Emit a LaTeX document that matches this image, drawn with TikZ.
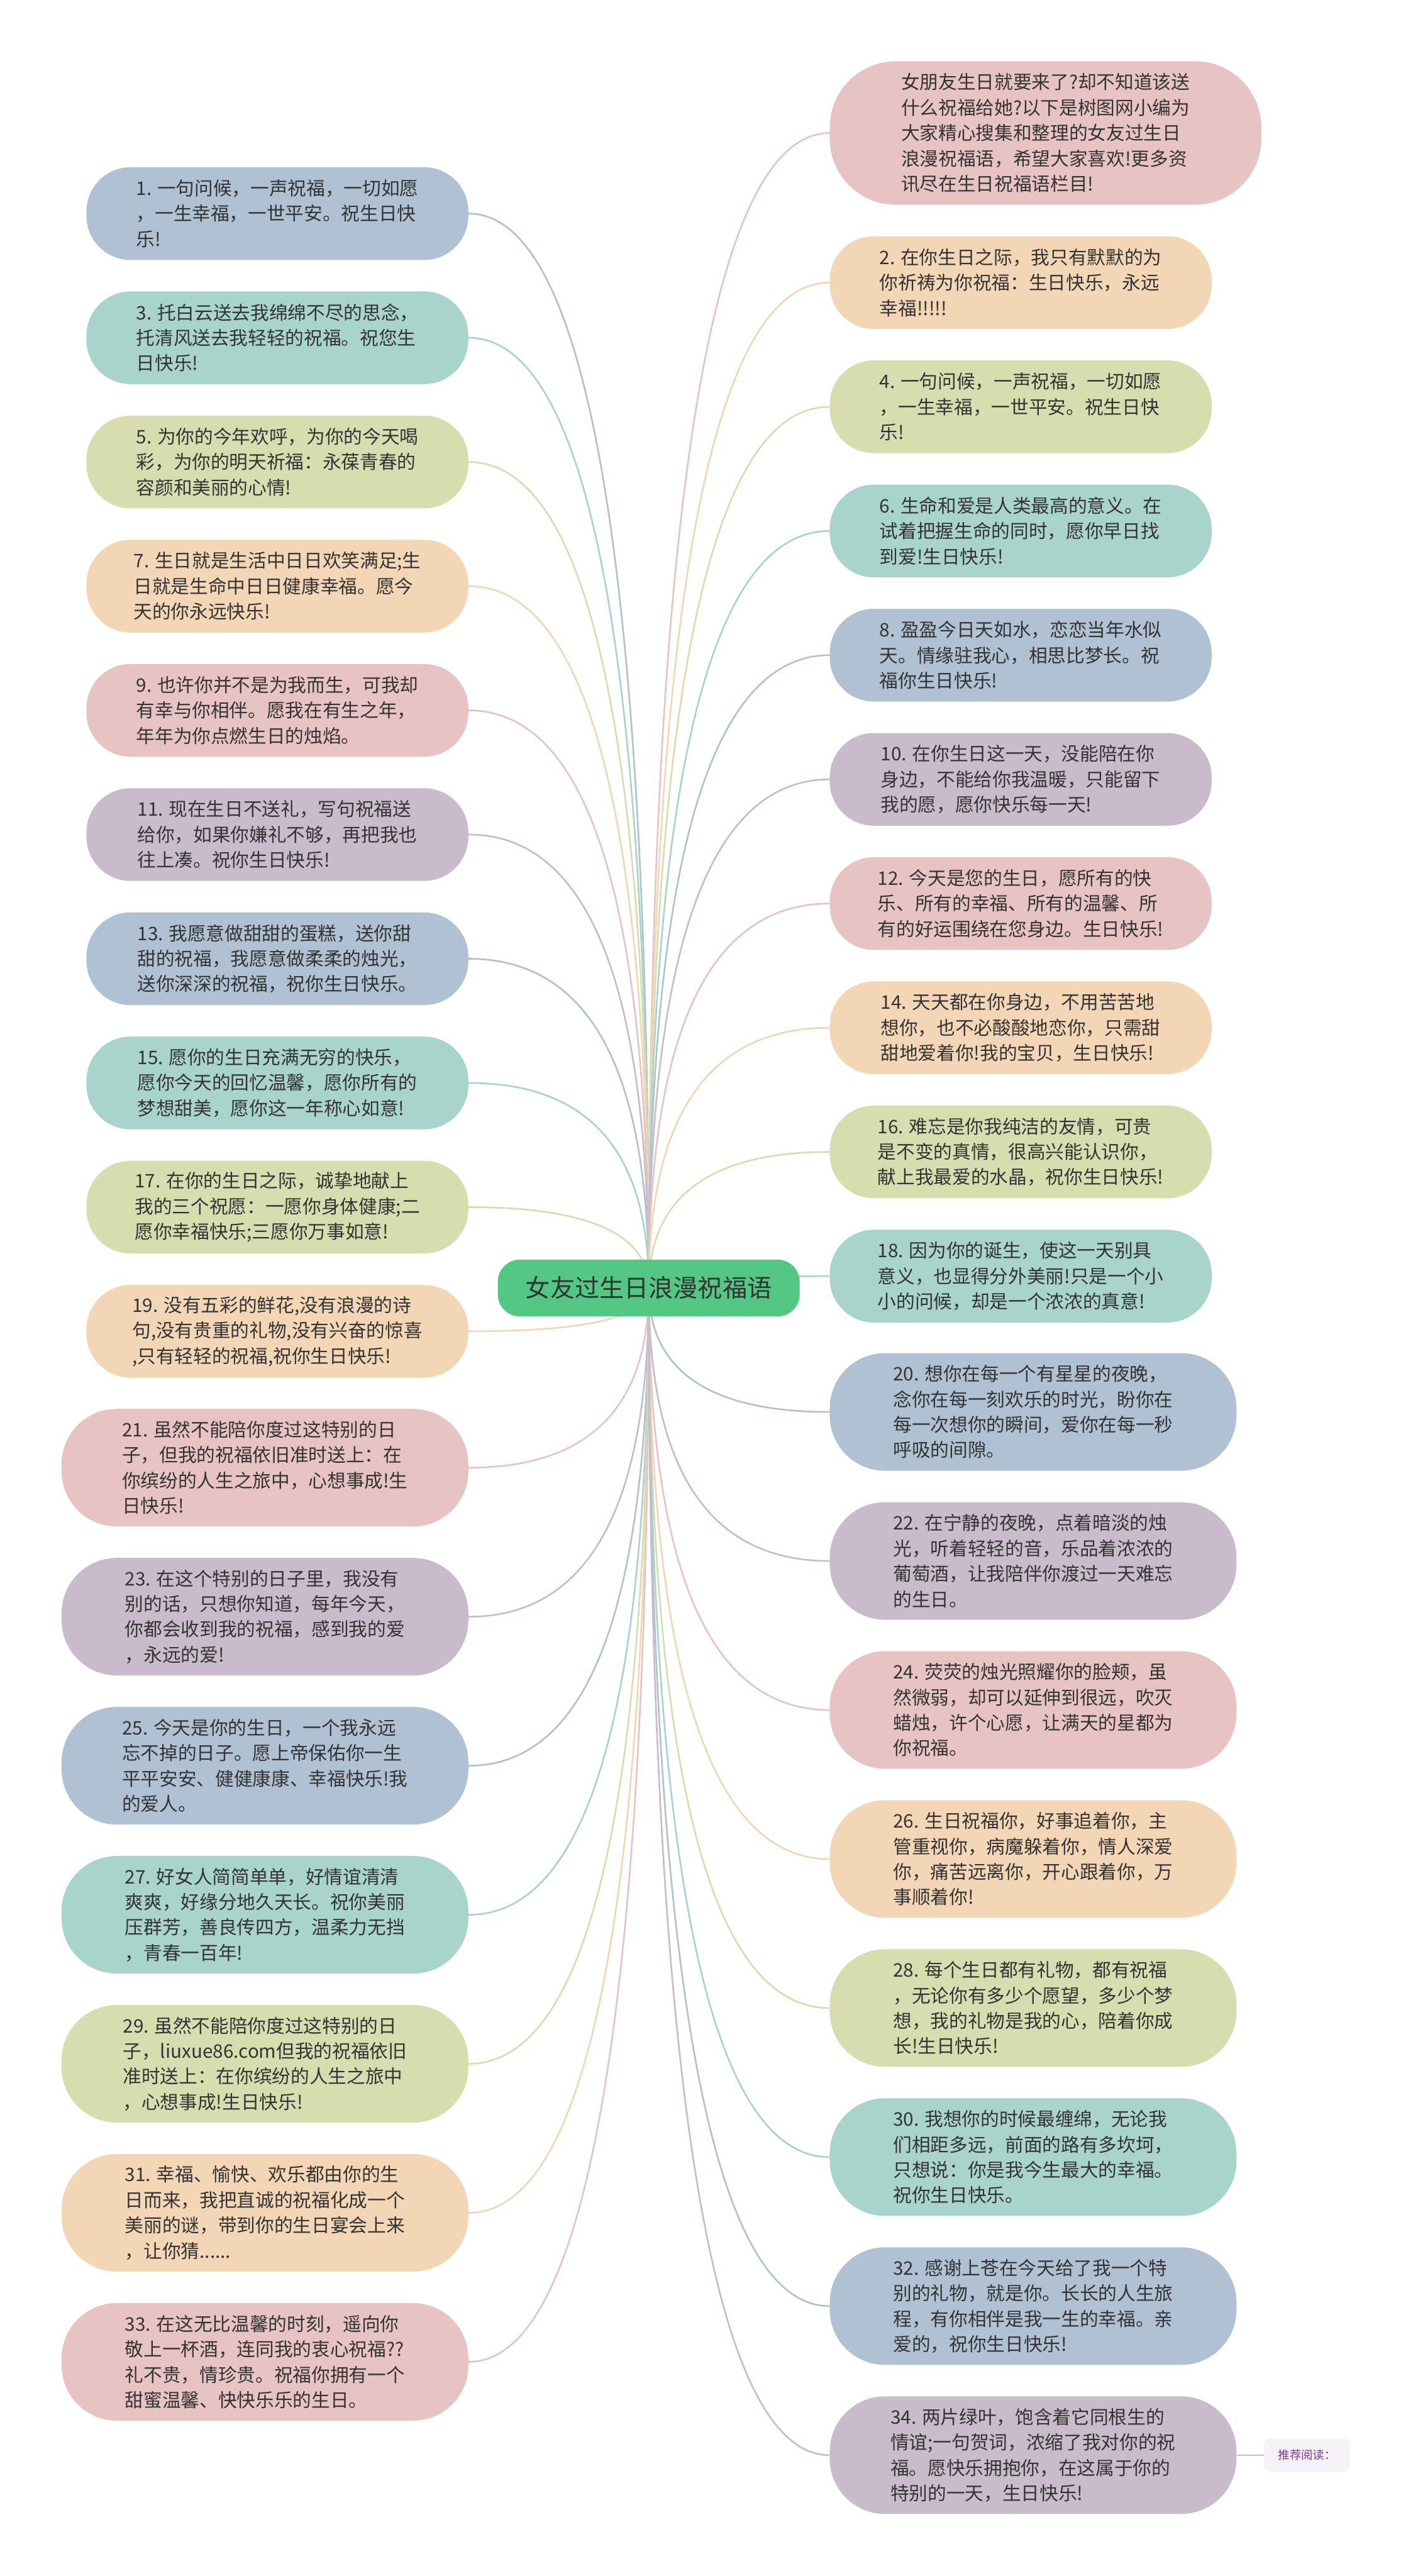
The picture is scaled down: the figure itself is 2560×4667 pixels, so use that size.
\documentclass[tikz,border=0pt]{standalone}
\usepackage{fontspec}
\setmainfont{Noto Sans CJK SC}
\usetikzlibrary{calc,backgrounds}
\definecolor{cblue}{HTML}{B0C1D3}
\definecolor{cteal}{HTML}{A8D4CB}
\definecolor{colive}{HTML}{D8DDB0}
\definecolor{cpeach}{HTML}{F3D6B5}
\definecolor{cpink}{HTML}{E8C3C4}
\definecolor{cpurple}{HTML}{C9BBCB}
\definecolor{croot}{HTML}{55C785}
\definecolor{ctxt}{HTML}{333333}
\definecolor{ctagbg}{HTML}{F4F2F6}
\definecolor{ctagtx}{HTML}{7A3D8E}
\tikzset{
  bub/.style={rounded corners=40pt, minimum width=346pt, minimum height=84pt,
    align=left, inner sep=0pt, text=ctxt,
    font=\fontsize{16.9pt}{23pt}\selectfont},
  bubfour/.style={bub, rounded corners=50pt, minimum width=368.5pt, minimum height=106.5pt},
  bubintro/.style={bub, rounded corners=60pt, minimum width=391pt, minimum height=130pt},
  lft/.style={anchor=east},
  rgt/.style={anchor=west},
  link/.style={line width=1.5pt},
}
\newcommand\lk[2]{\draw[link,draw=#2] (R.center) .. controls ($(R.center)!0.6667!(R.center|-#1)$) and ($(#1)!0.6667!(R.center|-#1)$) .. (#1);}
\begin{document}
\begin{tikzpicture}[x=0.5pt,y=-0.5pt]
\useasboundingbox (0,0) rectangle (2560,4667);

% root
\node[rounded corners=20pt, minimum width=273.5pt, minimum height=51.5pt, fill=croot, text=ctxt,
  font=\fontsize{22.3pt}{26pt}\selectfont, inner sep=0pt] (R) at (1175.5,2333.5) {女友过生日浪漫祝福语};

% left column
\node[bub,lft,fill=cblue] (n1) at (849,387) {1. 一句问候，一声祝福，一切如愿\\，一生幸福，一世平安。祝生日快\\乐!};
\node[bub,lft,fill=cteal] (n3) at (849,612) {3. 托白云送去我绵绵不尽的思念，\\托清风送去我轻轻的祝福。祝您生\\日快乐!};
\node[bub,lft,fill=colive] (n5) at (849,837) {5. 为你的今年欢呼，为你的今天喝\\彩，为你的明天祈福：永葆青春的\\容颜和美丽的心情!};
\node[bub,lft,fill=cpeach] (n7) at (849,1062) {7. 生日就是生活中日日欢笑满足;生\\日就是生命中日日健康幸福。愿今\\天的你永远快乐!};
\node[bub,lft,fill=cpink] (n9) at (849,1287) {9. 也许你并不是为我而生，可我却\\有幸与你相伴。愿我在有生之年，\\年年为你点燃生日的烛焰。};
\node[bub,lft,fill=cpurple] (n11) at (849,1512) {11. 现在生日不送礼，写句祝福送\\给你，如果你嫌礼不够，再把我也\\往上凑。祝你生日快乐!};
\node[bub,lft,fill=cblue] (n13) at (849,1737) {13. 我愿意做甜甜的蛋糕，送你甜\\甜的祝福，我愿意做柔柔的烛光，\\送你深深的祝福，祝你生日快乐。};
\node[bub,lft,fill=cteal] (n15) at (849,1962) {15. 愿你的生日充满无穷的快乐，\\愿你今天的回忆温馨，愿你所有的\\梦想甜美，愿你这一年称心如意!};
\node[bub,lft,fill=colive] (n17) at (849,2187) {17. 在你的生日之际，诚挚地献上\\我的三个祝愿：一愿你身体健康;二\\愿你幸福快乐;三愿你万事如意!};
\node[bub,lft,fill=cpeach] (n19) at (849,2412) {19. 没有五彩的鲜花,没有浪漫的诗\\句,没有贵重的礼物,没有兴奋的惊喜\\,只有轻轻的祝福,祝你生日快乐!};
\node[bubfour,lft,fill=cpink] (n21) at (849,2659) {21. 虽然不能陪你度过这特别的日\\子，但我的祝福依旧准时送上：在\\你缤纷的人生之旅中，心想事成!生\\日快乐!};
\node[bubfour,lft,fill=cpurple] (n23) at (849,2929) {23. 在这个特别的日子里，我没有\\别的话，只想你知道，每年今天，\\你都会收到我的祝福，感到我的爱\\，永远的爱!};
\node[bubfour,lft,fill=cblue] (n25) at (849,3199) {25. 今天是你的生日，一个我永远\\忘不掉的日子。愿上帝保佑你一生\\平平安安、健健康康、幸福快乐!我\\的爱人。};
\node[bubfour,lft,fill=cteal] (n27) at (849,3469) {27. 好女人简简单单，好情谊清清\\爽爽，好缘分地久天长。祝你美丽\\压群芳，善良传四方，温柔力无挡\\，青春一百年!};
\node[bubfour,lft,fill=colive] (n29) at (849,3739) {29. 虽然不能陪你度过这特别的日\\子，liuxue86.com但我的祝福依旧\\准时送上：在你缤纷的人生之旅中\\，心想事成!生日快乐!};
\node[bubfour,lft,fill=cpeach] (n31) at (849,4009) {31. 幸福、愉快、欢乐都由你的生\\日而来，我把直诚的祝福化成一个\\美丽的谜，带到你的生日宴会上来\\，让你猜......};
\node[bubfour,lft,fill=cpink] (n33) at (849,4279) {33. 在这无比温馨的时刻，遥向你\\敬上一杯酒，连同我的衷心祝福??\\礼不贵，情珍贵。祝福你拥有一个\\甜蜜温馨、快快乐乐的生日。};

% right column
\node[bubintro,rgt,fill=cpink] (n0) at (1503,241) {女朋友生日就要来了?却不知道该送\\什么祝福给她?以下是树图网小编为\\大家精心搜集和整理的女友过生日\\浪漫祝福语，希望大家喜欢!更多资\\讯尽在生日祝福语栏目!};
\node[bub,rgt,fill=cpeach] (n2) at (1503,512) {2. 在你生日之际，我只有默默的为\\你祈祷为你祝福：生日快乐，永远\\幸福!!!!!};
\node[bub,rgt,fill=colive] (n4) at (1503,737) {4. 一句问候，一声祝福，一切如愿\\，一生幸福，一世平安。祝生日快\\乐!};
\node[bub,rgt,fill=cteal] (n6) at (1503,962) {6. 生命和爱是人类最高的意义。在\\试着把握生命的同时，愿你早日找\\到爱!生日快乐!};
\node[bub,rgt,fill=cblue] (n8) at (1503,1187) {8. 盈盈今日天如水，恋恋当年水似\\天。情缘驻我心，相思比梦长。祝\\福你生日快乐!};
\node[bub,rgt,fill=cpurple] (n10) at (1503,1412) {10. 在你生日这一天，没能陪在你\\身边，不能给你我温暖，只能留下\\我的愿，愿你快乐每一天!};
\node[bub,rgt,fill=cpink] (n12) at (1503,1637) {12. 今天是您的生日，愿所有的快\\乐、所有的幸福、所有的温馨、所\\有的好运围绕在您身边。生日快乐!};
\node[bub,rgt,fill=cpeach] (n14) at (1503,1862) {14. 天天都在你身边，不用苦苦地\\想你，也不必酸酸地恋你，只需甜\\甜地爱着你!我的宝贝，生日快乐!};
\node[bub,rgt,fill=colive] (n16) at (1503,2087) {16. 难忘是你我纯洁的友情，可贵\\是不变的真情，很高兴能认识你，\\献上我最爱的水晶，祝你生日快乐!};
\node[bub,rgt,fill=cteal] (n18) at (1503,2312) {18. 因为你的诞生，使这一天别具\\意义，也显得分外美丽!只是一个小\\小的问候，却是一个浓浓的真意!};
\node[bubfour,rgt,fill=cblue] (n20) at (1503,2558) {20. 想你在每一个有星星的夜晚，\\念你在每一刻欢乐的时光，盼你在\\每一次想你的瞬间，爱你在每一秒\\呼吸的间隙。};
\node[bubfour,rgt,fill=cpurple] (n22) at (1503,2828) {22. 在宁静的夜晚，点着暗淡的烛\\光，听着轻轻的音，乐品着浓浓的\\葡萄酒，让我陪伴你渡过一天难忘\\的生日。};
\node[bubfour,rgt,fill=cpink] (n24) at (1503,3098) {24. 荧荧的烛光照耀你的脸颊，虽\\然微弱，却可以延伸到很远，吹灭\\蜡烛，许个心愿，让满天的星都为\\你祝福。};
\node[bubfour,rgt,fill=cpeach] (n26) at (1503,3368) {26. 生日祝福你，好事追着你，主\\管重视你，病魔躲着你，情人深爱\\你，痛苦远离你，开心跟着你，万\\事顺着你!};
\node[bubfour,rgt,fill=colive] (n28) at (1503,3638) {28. 每个生日都有礼物，都有祝福\\，无论你有多少个愿望，多少个梦\\想，我的礼物是我的心，陪着你成\\长!生日快乐!};
\node[bubfour,rgt,fill=cteal] (n30) at (1503,3908) {30. 我想你的时候最缠绵，无论我\\们相距多远，前面的路有多坎坷，\\只想说：你是我今生最大的幸福。\\祝你生日快乐。};
\node[bubfour,rgt,fill=cblue] (n32) at (1503,4178) {32. 感谢上苍在今天给了我一个特\\别的礼物，就是你。长长的人生旅\\程，有你相伴是我一生的幸福。亲\\爱的，祝你生日快乐!};
\node[bubfour,rgt,fill=cpurple] (n34) at (1503,4448) {34. 两片绿叶，饱含着它同根生的\\情谊;一句贺词，浓缩了我对你的祝\\福。愿快乐拥抱你，在这属于你的\\特别的一天，生日快乐!};

% tag
\node[rounded corners=6pt, minimum width=78pt, minimum height=30pt, fill=ctagbg, text=ctagtx,
  font=\fontsize{10.5pt}{12pt}\selectfont, inner sep=0pt, anchor=west] (tag) at (2290,4448) {推荐阅读：};

\begin{scope}[on background layer]
\fill[white] (0,0) rectangle (2560,4667);
\lk{n1.east}{cblue}
\lk{n3.east}{cteal}
\lk{n5.east}{colive}
\lk{n7.east}{cpeach}
\lk{n9.east}{cpink}
\lk{n11.east}{cpurple}
\lk{n13.east}{cblue}
\lk{n15.east}{cteal}
\lk{n17.east}{colive}
\lk{n19.east}{cpeach}
\lk{n21.east}{cpink}
\lk{n23.east}{cpurple}
\lk{n25.east}{cblue}
\lk{n27.east}{cteal}
\lk{n29.east}{colive}
\lk{n31.east}{cpeach}
\lk{n33.east}{cpink}
\lk{n0.west}{cpink}
\lk{n2.west}{cpeach}
\lk{n4.west}{colive}
\lk{n6.west}{cteal}
\lk{n8.west}{cblue}
\lk{n10.west}{cpurple}
\lk{n12.west}{cpink}
\lk{n14.west}{cpeach}
\lk{n16.west}{colive}
\lk{n18.west}{cteal}
\lk{n20.west}{cblue}
\lk{n22.west}{cpurple}
\lk{n24.west}{cpink}
\lk{n26.west}{cpeach}
\lk{n28.west}{colive}
\lk{n30.west}{cteal}
\lk{n32.west}{cblue}
\lk{n34.west}{cpurple}
\draw[line width=1pt, draw=cpurple] (n34.east) -- (tag.west);
\end{scope}
\end{tikzpicture}
\end{document}
